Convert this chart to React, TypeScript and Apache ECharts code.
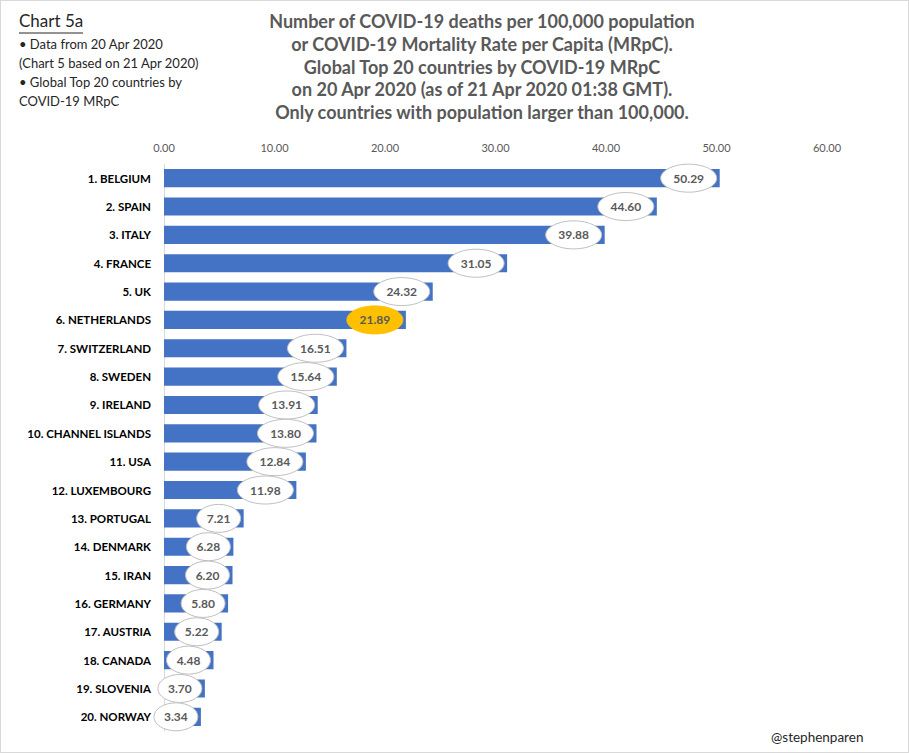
import React, { useEffect, useRef } from "react";
import * as echarts from "echarts";

const countries = [
  "1. BELGIUM", "2. SPAIN", "3. ITALY", "4. FRANCE", "5. UK", "6. NETHERLANDS",
  "7. SWITZERLAND", "8. SWEDEN", "9. IRELAND", "10. CHANNEL ISLANDS", "11. USA",
  "12. LUXEMBOURG", "13. PORTUGAL", "14. DENMARK", "15. IRAN", "16. GERMANY",
  "17. AUSTRIA", "18. CANADA", "19. SLOVENIA", "20. NORWAY",
];
const mrpc = [
  50.29, 44.6, 39.88, 31.05, 24.32, 21.89, 16.51, 15.64, 13.91, 13.8, 12.84,
  11.98, 7.21, 6.28, 6.2, 5.8, 5.22, 4.48, 3.7, 3.34,
];
const highlightCountry = "6. NETHERLANDS";
const titleLines = [
  "Number of COVID-19 deaths per 100,000 population",
  "or COVID-19 Mortality Rate per Capita (MRpC).",
  "Global Top 20 countries by COVID-19 MRpC",
  "on 20 Apr 2020 (as of 21 Apr 2020 01:38 GMT).",
  "Only countries with population larger than 100,000.",
];
const noteLines = [
  "\u2022 Data from 20 Apr 2020",
  "(Chart 5 based on 21 Apr 2020)",
  "\u2022 Global Top 20 countries by",
  "COVID-19 MRpC",
];

const FONT = "Lato, 'Open Sans', sans-serif";

export default function App() {
  const ref = useRef<HTMLDivElement>(null);
  useEffect(() => {
    document.body.style.margin = "0";
    const chart = echarts.init(ref.current!, null, { renderer: "svg" });
    chart.setOption({
      animation: false,
      backgroundColor: "#ffffff",
      textStyle: { fontFamily: FONT },
      title: [
        {
          text: titleLines.join("\n"),
          left: 476,
          top: 4,
          textAlign: "center",
          textStyle: {
            fontFamily: FONT,
            fontSize: 18,
            fontWeight: "bold",
            color: "#595959",
            lineHeight: 22.6,
            align: "center",
          },
        },
        {
          text: "Chart 5a",
          left: 13,
          top: 6,
          textStyle: { fontFamily: FONT, fontSize: 17, fontWeight: "normal", color: "#262626" },
        },
        {
          text: noteLines.join("\n"),
          left: 13,
          top: 29,
          textStyle: {
            fontFamily: FONT,
            fontSize: 13,
            fontWeight: "normal",
            color: "#262626",
            lineHeight: 18.8,
          },
        },
        {
          text: "@stephenparen",
          left: 765,
          top: 724,
          textStyle: { fontFamily: FONT, fontSize: 13.5, fontWeight: "normal", color: "#262626" },
        },
      ],
      graphic: [
        {
          type: "line",
          shape: { x1: 18, y1: 32, x2: 82, y2: 32 },
          style: { stroke: "#262626", lineWidth: 1 },
        },
      ],
      grid: { left: 163, right: 81, top: 163, height: 567 },
      xAxis: {
        type: "value",
        position: "top",
        min: 0,
        max: 60,
        interval: 10,
        axisLabel: {
          formatter: (v: number) => v.toFixed(2),
          color: "#595959",
          fontSize: 11,
          margin: 11,
          fontFamily: FONT,
        },
        axisLine: { show: false },
        axisTick: { show: false },
        splitLine: { show: false },
      },
      yAxis: {
        type: "category",
        data: countries,
        inverse: true,
        axisLine: { show: true, lineStyle: { color: "#d9d9d9" } },
        axisTick: { show: false },
        axisLabel: {
          color: "#000000",
          fontWeight: "bold",
          fontSize: 11.5,
          margin: 13,
          fontFamily: FONT,
        },
      },
      series: [
        {
          type: "bar",
          data: mrpc,
          barCategoryGap: "36%",
          itemStyle: { color: "#4472C4" },
        },
        {
          type: "custom",
          data: mrpc.map((v, i) => [v, i]),
          encode: { x: 0, y: 1 },
          clip: false,
          z: 5,
          renderItem: (params: any, api: any) => {
            const v = api.value(0);
            const i = api.value(1);
            const p = api.coord([v, i]);
            const txt = v.toFixed(2);
            const rx = 6 * txt.length - 2;
            const cx = p[0] - rx - 3;
            const cy = p[1];
            const hi = countries[i] === highlightCountry;
            return {
              type: "group",
              children: [
                {
                  type: "ellipse",
                  shape: { cx, cy, rx, ry: 14 },
                  style: {
                    fill: hi ? "#FFC000" : "#ffffff",
                    stroke: hi ? "#FFC000" : "#bfbfbf",
                    lineWidth: 1,
                  },
                },
                {
                  type: "text",
                  x: cx,
                  y: cy,
                  style: {
                    text: txt,
                    fill: "#595959",
                    font: `bold 12px ${FONT}`,
                    align: "center",
                    verticalAlign: "middle",
                  },
                },
              ],
            };
          },
        },
      ],
    });
    return () => chart.dispose();
  }, []);
  return (
    <div
      ref={ref}
      style={{
        position: "absolute",
        left: 0,
        top: 0,
        width: 909,
        height: 753,
        boxSizing: "border-box",
        border: "1px solid #d9d9d9",
      }}
    />
  );
}
